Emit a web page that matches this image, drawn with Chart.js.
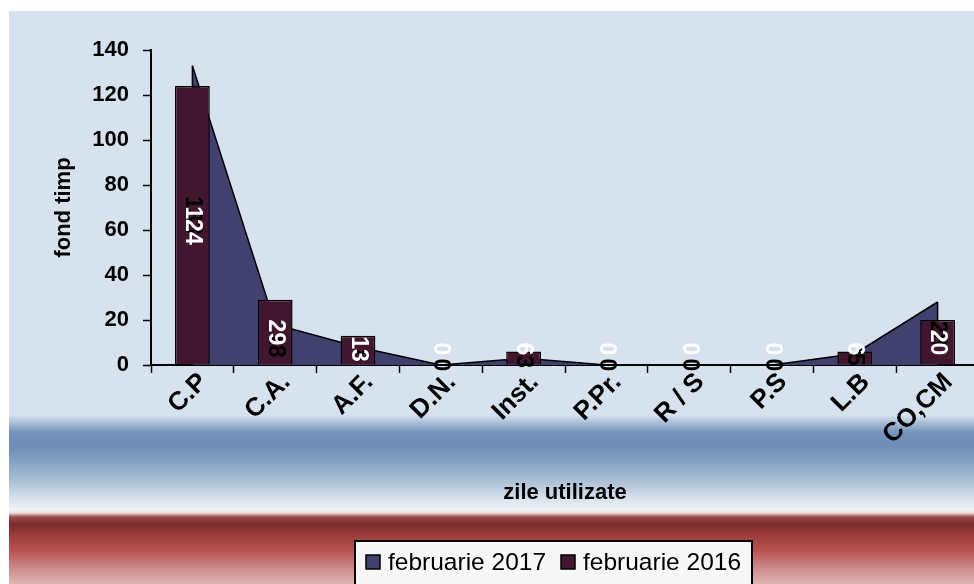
<!DOCTYPE html>
<html>
<head>
<meta charset="utf-8">
<script src="https://cdn.jsdelivr.net/npm/chart.js@4.4.1/dist/chart.umd.min.js"></script>
<style>
  html, body { margin: 0; padding: 0; overflow: hidden; background: #fff; }
</style>
</head>
<body>
<canvas id="myChart" width="990" height="584"></canvas>
<script>
// data
const categories = ['C.P', 'C.A.', 'A.F.', 'D.N.', 'Inst.', 'P.Pr.', 'R / S', 'P.S', 'L.B', 'CO,CM'];
const feb2017 = [133, 18, 8, 0, 3, 0, 0, 0, 5, 28];
const feb2016 = [124, 29, 13, 0, 6, 0, 0, 0, 6, 20];
const yMax = 140;
const yStep = 20;
const seriesNames = ['februarie 2017', 'februarie 2016'];

const areaColor = '#40416f';
const barColor = '#43162f';
const fontFamily = "'Liberation Sans', Arial, sans-serif";

// background: light blue panel with the blue and red bands
const bgPlugin = {
  id: 'bg',
  beforeDraw(chart) {
    const ctx = chart.ctx;
    ctx.save();
    ctx.fillStyle = '#ffffff';
    ctx.fillRect(0, 0, chart.width, chart.height);
    const g = ctx.createLinearGradient(0, 11, 0, chart.height);
    const h = chart.height - 11;
    const stop = y => (y - 11) / h;
    g.addColorStop(0, '#d6e3ef');
    g.addColorStop(stop(415), '#d6e3ef');
    g.addColorStop(stop(423), '#a8bdd6');
    g.addColorStop(stop(433), '#7491ba');
    g.addColorStop(stop(446), '#6f8db5');
    g.addColorStop(stop(463), '#86a4c4');
    g.addColorStop(stop(483), '#b0c4d8');
    g.addColorStop(stop(500), '#dce4ed');
    g.addColorStop(stop(510), '#f1f3f5');
    g.addColorStop(stop(513), '#e9dcdc');
    g.addColorStop(stop(517), '#9a4a48');
    g.addColorStop(stop(524), '#7b2b29');
    g.addColorStop(stop(536), '#9e3f3d');
    g.addColorStop(stop(550), '#b85050');
    g.addColorStop(stop(568), '#cc8a8a');
    g.addColorStop(1, '#dfb6b6');
    ctx.fillStyle = g;
    ctx.fillRect(9, 11, chart.width - 9, h);
    ctx.restore();
  }
};

// vertical edges of the area at both ends (drawn before the bars)
const areaEdges = {
  id: 'areaEdges',
  afterDatasetDraw(chart, args) {
    if (args.index !== 0) return;
    const ctx = chart.ctx;
    const pts = args.meta.data;
    const y0 = chart.scales.y.getPixelForValue(0);
    ctx.save();
    ctx.strokeStyle = '#000';
    ctx.lineWidth = 1.5;
    [pts[0], pts[pts.length - 1]].forEach(p => {
      ctx.beginPath();
      ctx.moveTo(p.x, p.y);
      ctx.lineTo(p.x, y0);
      ctx.stroke();
    });
    ctx.restore();
  }
};

// rotated value labels, 2017 in black, 2016 in white on top
const valueLabels = {
  id: 'valueLabels',
  afterDatasetsDraw(chart) {
    const ctx = chart.ctx;
    const y = chart.scales.y;
    const y0 = y.getPixelForValue(0);
    ctx.save();
    ctx.font = 'bold 23px ' + fontFamily;
    ctx.textAlign = 'center';
    ctx.textBaseline = 'middle';
    const draw = (x, cy, txt, col) => {
      ctx.save();
      ctx.translate(x, cy);
      ctx.rotate(Math.PI / 2);
      ctx.fillStyle = col;
      ctx.fillText(txt, 0, 0);
      ctx.restore();
    };
    chart.getDatasetMeta(0).data.forEach((p, i) => {
      draw(p.x, y.getPixelForValue(feb2017[i] / 2), String(feb2017[i]), '#000');
    });
    chart.getDatasetMeta(1).data.forEach((b, i) => {
      const cy = Math.min(y.getPixelForValue(feb2016[i] / 2), y0 - 16);
      draw(b.x, cy, String(feb2016[i]), '#fff');
    });
    ctx.restore();
  }
};

// framed legend at the bottom
const boxLegend = {
  id: 'boxLegend',
  afterDraw(chart) {
    const ctx = chart.ctx;
    ctx.save();
    ctx.fillStyle = '#f7f7f7';
    ctx.fillRect(355, 541, 397, 60);
    ctx.strokeStyle = '#000';
    ctx.lineWidth = 2;
    ctx.strokeRect(355, 541, 397, 60);
    ctx.font = '24.5px ' + fontFamily;
    ctx.textBaseline = 'middle';
    let x = 366;
    [areaColor, barColor].forEach((c, i) => {
      ctx.fillStyle = c;
      ctx.fillRect(x, 555, 14, 14);
      ctx.lineWidth = 1.5;
      ctx.strokeRect(x, 555, 14, 14);
      ctx.fillStyle = '#000';
      ctx.fillText(seriesNames[i], x + 22, 563);
      x += 22 + ctx.measureText(seriesNames[i]).width + 15;
    });
    ctx.restore();
  }
};

const data = {
  labels: categories,
  datasets: [{
    type: 'line',
    label: seriesNames[0],
    data: feb2017,
    order: 2,
    fill: 'origin',
    backgroundColor: areaColor,
    borderColor: '#000',
    borderWidth: 1.5,
    tension: 0,
    pointRadius: 0
  }, {
    type: 'bar',
    label: seriesNames[1],
    data: feb2016,
    order: 1,
    backgroundColor: barColor,
    borderColor: '#000',
    borderWidth: 1.5,
    categoryPercentage: 1,
    barPercentage: 0.42
  }]
};

const config = {
  type: 'bar',
  data,
  options: {
    responsive: false,
    animation: false,
    layout: { padding: { top: 50, left: 0, right: 11, bottom: 78 } },
    plugins: {
      legend: { display: false },
      tooltip: { enabled: false }
    },
    scales: {
      x: {
        afterFit: s => { s.height = 141; },
        border: { color: '#000', width: 2 },
        grid: { display: true, drawOnChartArea: false, offset: true, color: '#000', tickLength: 8, tickWidth: 1.5 },
        ticks: {
          autoSkip: false,
          minRotation: 45,
          maxRotation: 45,
          padding: -6,
          labelOffset: 11,
          color: '#000',
          font: { family: fontFamily, size: 26, weight: 'bold' }
        },
        title: {
          display: true,
          text: 'zile utilizate',
          color: '#000',
          padding: 0,
          font: { family: fontFamily, size: 22, weight: 'bold' }
        }
      },
      y: {
        min: 0,
        max: yMax,
        afterFit: s => { s.width = 151; },
        border: { color: '#000', width: 2 },
        grid: { display: true, drawOnChartArea: false, color: '#000', tickLength: 8, tickWidth: 1.5 },
        ticks: {
          stepSize: yStep,
          padding: 14,
          color: '#000',
          font: { family: fontFamily, size: 22, weight: 'bold' }
        },
        title: {
          display: true,
          text: 'fond timp',
          color: '#000',
          padding: { top: 51, bottom: 0 },
          font: { family: fontFamily, size: 22, weight: 'bold' }
        }
      }
    }
  },
  plugins: [bgPlugin, areaEdges, valueLabels, boxLegend]
};

const myChart = new Chart(
  document.getElementById('myChart'),
  config
);
</script>
</body>
</html>
